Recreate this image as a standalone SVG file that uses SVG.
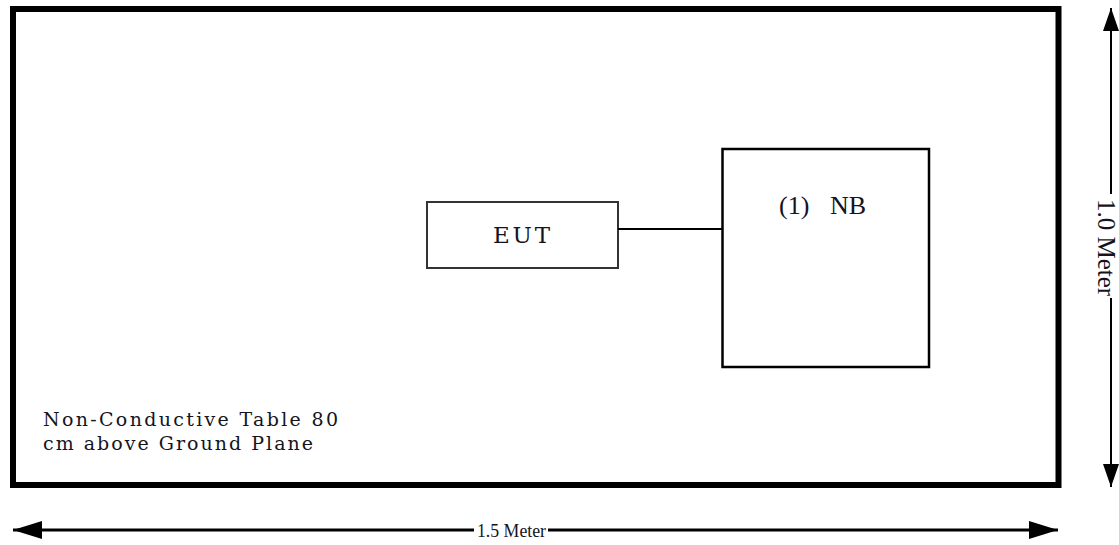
<svg xmlns="http://www.w3.org/2000/svg" width="1119" height="545" viewBox="0 0 1119 545">
<style>
.lbl{font-family:"Liberation Serif","DejaVu Serif",serif;fill:#141420}
.wide{font-family:"DejaVu Serif","Liberation Serif",serif;fill:#141420}
.ln{stroke:#000;fill:none}
</style>
<defs>
<marker id="ahH" viewBox="0 0 29 18" refX="29" refY="9" markerWidth="29" markerHeight="18" markerUnits="userSpaceOnUse" orient="auto">
<path d="M0,0 L29,9 L0,18 z" fill="#000"/>
</marker>
<marker id="ahV" viewBox="0 0 23 16" refX="23" refY="8" markerWidth="23" markerHeight="16" markerUnits="userSpaceOnUse" orient="auto">
<path d="M0,0 L23,8 L0,16 z" fill="#000"/>
</marker>
</defs>
<rect width="1119" height="545" fill="#fff"/>
<g id="table">
<rect x="13" y="9" width="1045.5" height="476" fill="none" stroke="#000" stroke-width="6"/>
<text class="wide" x="43" y="426" font-size="19" textLength="295" lengthAdjust="spacing">Non-Conductive Table 80</text>
<text class="wide" x="43" y="450" font-size="19" textLength="270" lengthAdjust="spacing">cm above Ground Plane</text>
</g>
<g id="eut">
<rect x="427" y="202" width="191" height="66" fill="#fff" stroke="#333" stroke-width="2"/>
<text class="wide" x="493" y="243" font-size="23" textLength="57" lengthAdjust="spacing">EUT</text>
</g>
<g id="nb">
<rect x="722.5" y="149" width="206.5" height="218" fill="#fff" stroke="#000" stroke-width="2.5"/>
<text class="lbl" x="779" y="214" font-size="26">(1)</text>
<text class="lbl" x="830" y="214" font-size="26">NB</text>
</g>
<g id="connectors">
<line class="ln" x1="618" y1="229" x2="722" y2="229" stroke-width="1.8"/>
<line class="ln" x1="474" y1="530" x2="13" y2="530" stroke-width="3" marker-end="url(#ahH)"/>
<line class="ln" x1="548" y1="530" x2="1058" y2="530" stroke-width="3" marker-end="url(#ahH)"/>
<line class="ln" x1="1111" y1="194" x2="1111" y2="8" stroke-width="2" marker-end="url(#ahV)"/>
<line class="ln" x1="1111" y1="298" x2="1111" y2="487" stroke-width="2" marker-end="url(#ahV)"/>
<text class="lbl" x="477" y="537" font-size="19" textLength="69" lengthAdjust="spacingAndGlyphs">1.5 Meter</text>
<text class="lbl" transform="translate(1098,247.5) rotate(90)" font-size="25" text-anchor="middle">1.0 Meter</text>
</g>
</svg>
